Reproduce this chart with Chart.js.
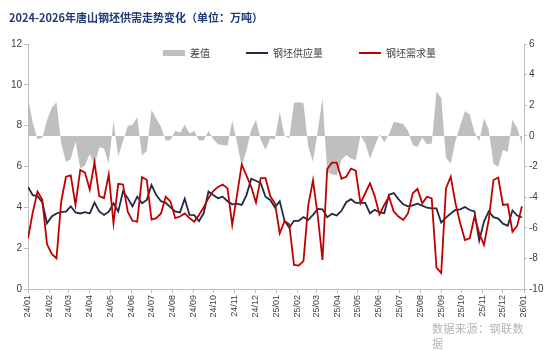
<!DOCTYPE html>
<html>
<head>
<meta charset="utf-8">
<script src="https://cdn.jsdelivr.net/npm/chart.js@4.4.1/dist/chart.umd.min.js"></script>
<style>
html, body { margin: 0; padding: 0; background: #fff; }
#wrap { position: relative; width: 550px; height: 351px; overflow: hidden; }
canvas { position: absolute; left: 0; top: 0; }
#title { position: absolute; left: 9px; top: 9px; font: bold 11px "Noto Sans CJK SC", sans-serif; color: #1f3a78; white-space: nowrap; }
#source { position: absolute; left: 432px; top: 321px; width: 96px; font: 11px "Noto Sans CJK SC", sans-serif; line-height: 15px; color: #b4b4b4; letter-spacing: 0.5px; }
</style>
</head>
<body>
<div id="wrap">
	<canvas id="chart" width="550" height="351"></canvas>
	<div id="title">2024-2026年唐山钢坯供需走势变化（单位：万吨）</div>
	<div id="source">数据来源：钢联数据</div>
</div>
<script>
// weekly data, first week 2024-01-05
const first_week = '2024-01-05';

const tick_labels = ['24/01','24/02','24/03','24/04','24/05','24/06','24/07','24/08','24/09','24/10','24/11','24/12',
	'25/01','25/02','25/03','25/04','25/05','25/06','25/07','25/08','25/09','25/10','25/11','25/12','26/01'];

const supply = [5.0,4.6,4.55,4.25,3.22,3.55,3.7,3.78,3.79,4.05, 3.75,3.7,3.76,3.7,4.23,3.8,3.63,3.79,4.2,3.8,
	4.77,4.45,4.05,4.52,4.2,4.36,5.1,4.6,4.3,4.22, 4.0,3.8,3.75,4.42,3.63,3.62,3.32,3.72,4.77,4.6,
	4.45,4.52,4.3,4.15,4.18,4.12,4.6,5.4,5.3,5.18, 4.52,4.36,4.0,4.3,3.35,3.0,3.34,3.34,3.52,3.39,
	3.63,3.92,3.9,3.52,3.68,3.6,3.83,4.25,4.4,4.22, 4.22,4.22,3.71,3.88,3.75,3.71,4.62,4.7,4.4,4.15,
	4.05,4.1,4.18,4.08,3.98,3.95,3.95,3.25,3.5,3.7, 3.87,3.9,4.02,3.87,3.8,2.37,3.3,3.8,3.52,3.45,
	3.2,3.1,3.85,3.6,3.5];

const demand = [2.48,3.75,4.77,4.38,2.2,1.72,1.5,4.3,5.5,5.56, 4.12,5.83,5.7,4.87,6.2,4.55,4.45,5.6,3.22,5.15,
	5.12,3.79,3.34,3.3,5.48,5.35,3.4,3.47,3.7,4.52, 4.28,3.47,3.55,3.7,3.47,3.3,3.62,4.0,4.45,4.8,
	5.0,5.12,4.93,3.14,4.6,6.1,5.55,5.0,4.24,5.43, 5.43,4.55,4.2,2.73,3.32,3.17,1.18,1.15,1.37,4.1,
	5.32,3.6,1.42,5.88,6.19,6.19,5.4,5.5,5.9,5.8, 4.2,4.69,5.18,4.55,3.65,4.12,4.52,3.8,3.55,3.38,
	3.7,4.69,4.9,4.2,4.52,4.44,1.05,0.78,4.93,5.5, 4.2,3.22,2.4,2.48,3.55,2.73,2.16,3.38,5.34,5.46,
	4.12,4.15,2.8,3.1,4.05];

const diff = [2.52,0.85,-0.22,-0.13,1.02,1.83,2.2,-0.52,-1.71,-1.51, -0.37,-2.13,-1.94,-1.17,-1.97,-0.75,-0.82,-1.81,0.98,-1.35,
	-0.35,0.66,0.71,1.22,-1.28,-0.99,1.7,1.13,0.6,-0.3, -0.28,0.33,0.2,0.72,0.16,0.32,-0.3,-0.28,0.32,-0.2,
	-0.55,-0.6,-0.63,1.01,-0.42,-1.98,-0.95,0.4,1.06,-0.25, -0.91,-0.19,-0.2,1.57,0.03,-0.17,2.16,2.19,2.15,-0.71,
	-1.69,0.32,2.48,-2.36,-2.51,-2.59,-1.57,-1.25,-1.5,-1.58, 0.02,-0.47,-1.47,-0.67,0.1,-0.41,0.1,0.9,0.85,0.77,
	0.35,-0.59,-0.72,-0.12,-0.54,-0.49,2.9,2.47,-1.43,-1.8, -0.33,0.68,1.62,1.39,0.25,-0.36,1.14,0.42,-1.82,-2.01,
	-0.92,-1.05,1.05,0.5,-0.55];

const day_ms = 86400000;
const start = Date.parse(first_week + 'T00:00:00Z');

// x positions in days since the first week
const week_days = supply.map((v, i) => i * 7);
const tick_days = tick_labels.map(function(l){
	const d = Date.UTC(2000 + parseInt(l.slice(0, 2), 10), parseInt(l.slice(3), 10) - 1, 5);
	return (d - start) / day_ms;
});

function points(arr){
	return arr.map((v, i) => ({x: week_days[i], y: v}));
}

const axis_color = '#bfbfbf';
const text_color = '#404040';

Chart.defaults.font.family = '"Liberation Sans", "Noto Sans CJK SC", sans-serif';
Chart.defaults.color = text_color;

// put the legend inside the plot, under the top of the axes
const legend_spot = {
	id: 'legend_spot',
	afterLayout(chart){
		const lg = chart.legend;
		lg.top = 12;
		lg.bottom = 72;	// legend clips to its box, keep it tall enough
		lg.left = 127;
	}
};

const ctx = document.getElementById('chart').getContext('2d');

new Chart(ctx, {
	type: 'line',
	data: {
		datasets: [
			{
				label: '差值',
				data: points(diff),
				yAxisID: 'y1',
				borderWidth: 0,
				borderColor: 'rgba(0,0,0,0)',
				backgroundColor: '#bfbfbf',
				fill: 'origin',
				tension: 0,
				pointRadius: 0,
				pointStyle: 'rect',
				pointBackgroundColor: '#bfbfbf',
				pointBorderWidth: 0,
				order: 3
			},
			{
				label: '钢坯供应量',
				data: points(supply),
				yAxisID: 'y',
				borderColor: '#1f2a44',
				backgroundColor: '#1f2a44',
				borderWidth: 1.8,
				fill: false,
				tension: 0,
				pointRadius: 0,
				pointStyle: 'line',
				pointBorderColor: '#1f2a44',
				pointBorderWidth: 2,
				order: 2
			},
			{
				label: '钢坯需求量',
				data: points(demand),
				yAxisID: 'y',
				borderColor: '#c00000',
				backgroundColor: '#c00000',
				borderWidth: 1.8,
				fill: false,
				tension: 0,
				pointRadius: 0,
				pointStyle: 'line',
				pointBorderColor: '#c00000',
				pointBorderWidth: 2,
				order: 1
			}
		]
	},
	options: {
		responsive: false,
		animation: false,
		devicePixelRatio: 1,
		layout: {
			padding: {top: 12, left: 0, right: 0, bottom: 0}
		},
		plugins: {
			legend: {
				position: 'top',
				align: 'start',
				maxHeight: 32,
				labels: {
					usePointStyle: true,
					pointStyleWidth: 22,
					boxHeight: 6,
					padding: 36,
					color: text_color,
					font: {size: 10, family: '"Noto Sans CJK SC", sans-serif'},
					sort: (a, b) => a.datasetIndex - b.datasetIndex
				}
			},
			tooltip: {enabled: false}
		},
		scales: {
			x: {
				type: 'linear',
				min: 0,
				max: tick_days[tick_days.length - 1],
				afterBuildTicks: function(scale){
					scale.ticks = tick_days.map(v => ({value: v}));
				},
				afterFit: function(scale){
					scale.height = 62;
				},
				ticks: {
					autoSkip: false,
					minRotation: 90,
					maxRotation: 90,
					padding: 2,
					color: text_color,
					font: {size: 9},
					callback: function(value, index){
						return tick_labels[index];
					}
				},
				grid: {
					display: true,
					drawOnChartArea: false,
					drawTicks: true,
					tickLength: 4,
					color: axis_color
				},
				border: {display: true, color: axis_color}
			},
			y: {
				position: 'left',
				min: 0,
				max: 12,
				afterFit: function(scale){
					scale.width = 28;
				},
				ticks: {
					stepSize: 2,
					padding: 2,
					color: text_color,
					font: {size: 10}
				},
				grid: {
					display: true,
					drawOnChartArea: false,
					drawTicks: true,
					tickLength: 4,
					color: axis_color
				},
				border: {display: true, color: axis_color}
			},
			y1: {
				position: 'right',
				min: -10,
				max: 6,
				afterFit: function(scale){
					scale.width = 26;
				},
				ticks: {
					stepSize: 2,
					padding: 2,
					color: text_color,
					font: {size: 10}
				},
				grid: {
					display: true,
					drawOnChartArea: false,
					drawTicks: true,
					tickLength: 3,
					color: axis_color
				},
				border: {display: true, color: axis_color}
			}
		}
	},
	plugins: [legend_spot]
});
</script>
</body>
</html>
